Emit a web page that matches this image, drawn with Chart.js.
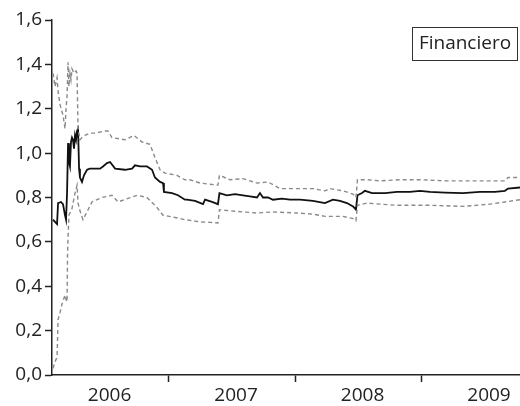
<!DOCTYPE html>
<html>
<head>
<meta charset="utf-8">
<script src="https://cdn.jsdelivr.net/npm/chart.js@4/dist/chart.umd.min.js"></script>
<style>
  html, body { margin: 0; padding: 0; background: #fff; }
  #wrap { width: 520px; height: 406px; }
</style>
</head>
<body>
<div id="wrap"><canvas id="grafico"></canvas></div>
<script>
// years as decimal values
var mainX = [2006.083, 2006.099, 2006.115, 2006.123, 2006.146, 2006.162, 2006.178, 2006.186, 2006.194, 2006.202,
  2006.209, 2006.217, 2006.225, 2006.233, 2006.241, 2006.249, 2006.257, 2006.265, 2006.273, 2006.281,
  2006.289, 2006.296, 2006.312, 2006.328, 2006.352, 2006.375, 2006.391, 2006.455, 2006.478, 2006.510,
  2006.534, 2006.574, 2006.652, 2006.708, 2006.731, 2006.771, 2006.826, 2006.866, 2006.889, 2006.929,
  2006.953, 2006.960, 2007.024, 2007.071, 2007.126, 2007.142, 2007.206, 2007.269,
  2007.285, 2007.340, 2007.387, 2007.399, 2007.458, 2007.522, 2007.585, 2007.640, 2007.696, 2007.719,
  2007.743, 2007.783, 2007.822, 2007.893, 2007.957, 2008.036, 2008.138, 2008.233, 2008.296, 2008.352,
  2008.407, 2008.455, 2008.478, 2008.490, 2008.526, 2008.549, 2008.605, 2008.708, 2008.802, 2008.905,
  2008.984, 2009.063, 2009.182, 2009.324, 2009.458, 2009.577, 2009.656, 2009.680, 2009.775];
var mainY = [0.70, 0.69, 0.68, 0.775, 0.78, 0.77, 0.72, 0.70, 0.82, 1.045,
  0.96, 0.94, 1.05, 1.07, 1.06, 1.02, 1.08, 1.06, 1.10, 1.11,
  0.93, 0.89, 0.87, 0.90, 0.925, 0.93, 0.93, 0.93, 0.94, 0.955,
  0.96, 0.93, 0.925, 0.93, 0.945, 0.94, 0.94, 0.925, 0.89, 0.87,
  0.865, 0.825, 0.82, 0.81, 0.79, 0.79, 0.785, 0.77,
  0.79, 0.78, 0.77, 0.82, 0.81, 0.815, 0.81, 0.805, 0.80, 0.82,
  0.80, 0.80, 0.79, 0.795, 0.79, 0.79, 0.785, 0.775, 0.79, 0.785,
  0.775, 0.76, 0.745, 0.81, 0.82, 0.83, 0.82, 0.82, 0.825, 0.825,
  0.83, 0.825, 0.822, 0.82, 0.825, 0.825, 0.83, 0.84, 0.845];

var upperX = [2006.083, 2006.099, 2006.115, 2006.123, 2006.138, 2006.162, 2006.178, 2006.186, 2006.194, 2006.202,
  2006.209, 2006.217, 2006.225, 2006.233, 2006.249, 2006.265, 2006.273, 2006.281, 2006.296, 2006.312,
  2006.336, 2006.375, 2006.415, 2006.494, 2006.518, 2006.549, 2006.652, 2006.723, 2006.787, 2006.850,
  2006.889, 2006.929, 2006.968, 2007.063, 2007.126, 2007.166, 2007.245, 2007.324, 2007.387, 2007.399, 2007.482,
  2007.585, 2007.640, 2007.696, 2007.783, 2007.877, 2008.012, 2008.138, 2008.233, 2008.273, 2008.375,
  2008.455, 2008.478, 2008.490, 2008.565, 2008.668, 2008.826, 2008.984, 2009.198, 2009.458, 2009.656,
  2009.680, 2009.775];
var upperY = [1.36, 1.30, 1.34, 1.28, 1.22, 1.17, 1.11, 1.20, 1.26, 1.41,
  1.30, 1.36, 1.33, 1.38, 1.36, 1.37, 1.36, 1.11, 1.06, 1.07,
  1.08, 1.09, 1.09, 1.10, 1.10, 1.07, 1.06, 1.08, 1.05, 1.04,
  0.98, 0.925, 0.91, 0.90, 0.88, 0.88, 0.865, 0.86, 0.856, 0.90, 0.88,
  0.885, 0.875, 0.865, 0.87, 0.84, 0.84, 0.84, 0.83, 0.84, 0.83,
  0.815, 0.80, 0.88, 0.88, 0.875, 0.88, 0.88, 0.875, 0.875, 0.875,
  0.89, 0.89];

var lowerX = [2006.083, 2006.099, 2006.115, 2006.123, 2006.138, 2006.154, 2006.178, 2006.186, 2006.194, 2006.198,
  2006.202, 2006.209, 2006.217, 2006.233, 2006.257, 2006.273, 2006.281, 2006.296, 2006.320, 2006.360,
  2006.391, 2006.470, 2006.549, 2006.597, 2006.747, 2006.826, 2006.905, 2006.953, 2007.048, 2007.126,
  2007.245, 2007.324, 2007.387, 2007.399, 2007.482, 2007.585, 2007.696, 2007.822, 2008.012, 2008.138,
  2008.233, 2008.375, 2008.455, 2008.478, 2008.490, 2008.565, 2008.668, 2008.802, 2009.063, 2009.324,
  2009.538, 2009.656, 2009.775];
var lowerY = [0.03, 0.06, 0.08, 0.25, 0.28, 0.32, 0.36, 0.34, 0.33, 0.55,
  0.62, 0.72, 0.73, 0.75, 0.82, 0.855, 0.775, 0.74, 0.70, 0.745,
  0.78, 0.80, 0.81, 0.78, 0.81, 0.80, 0.755, 0.72, 0.71, 0.70,
  0.69, 0.688, 0.685, 0.745, 0.74, 0.735, 0.73, 0.735, 0.73, 0.725,
  0.715, 0.715, 0.705, 0.695, 0.765, 0.775, 0.77, 0.765, 0.765, 0.76,
  0.77, 0.78, 0.79];

var yearLabels = ['2006', '2007', '2008', '2009'];
var labelPos = [2006.53, 2007.53, 2008.53, 2009.53];
var yearBounds = [2007, 2008, 2009];
var boxLabel = 'Financiero';

var fuente = { family: 'Open Sans', size: 19 };
var tinta = '#222';

function pares(xs, ys) {
  var out = [];
  for (var i = 0; i < xs.length; i++) out.push({ x: xs[i], y: ys[i] });
  return out;
}

var cajaPlugin = {
  id: 'caja',
  afterDraw: function(chart) {
    var c = chart.ctx;
    c.save();
    c.fillStyle = '#fff';
    c.fillRect(412.5, 27.5, 105, 33);
    c.strokeStyle = '#333';
    c.lineWidth = 1;
    c.strokeRect(412.5, 27.5, 105, 33);
    c.fillStyle = tinta;
    c.font = '19px "Open Sans"';
    c.textAlign = 'center';
    c.textBaseline = 'middle';
    c.fillText(boxLabel, 465, 44);
    c.restore();
  }
};

var ctx = document.getElementById('grafico');
new Chart(ctx, {
  type: 'line',
  data: {
    datasets: [
      { data: pares(upperX, upperY), borderColor: '#8a8a8a', borderWidth: 1.4, borderDash: [4, 3] },
      { data: pares(lowerX, lowerY), borderColor: '#8a8a8a', borderWidth: 1.4, borderDash: [4, 3] },
      { data: pares(mainX, mainY), borderColor: '#111', borderWidth: 1.8 }
    ]
  },
  options: {
    responsive: true,
    maintainAspectRatio: false,
    animation: false,
    events: [],
    layout: { padding: { top: 20, left: 0, right: 0, bottom: 0 } },
    elements: { point: { radius: 0 }, line: { tension: 0 } },
    plugins: { legend: { display: false }, tooltip: { enabled: false } },
    scales: {
      x: {
        type: 'linear',
        min: 2006.075,
        max: 2009.775,
        afterBuildTicks: function(s) {
          var t = [];
          labelPos.forEach(function(v) { t.push({ value: v }); });
          yearBounds.forEach(function(v) { t.push({ value: v }); });
          t.sort(function(a, b) { return a.value - b.value; });
          s.ticks = t;
        },
        afterFit: function(s) { s.height = 31; },
        ticks: {
          autoSkip: false,
          maxRotation: 0,
          padding: 2,
          color: tinta,
          font: fuente,
          callback: function(v) {
            var i = labelPos.indexOf(v);
            return i >= 0 ? yearLabels[i] : '';
          }
        },
        grid: {
          drawOnChartArea: false,
          tickLength: 7,
          tickWidth: 1.5,
          tickColor: function(c) {
            return (c.tick && yearBounds.indexOf(c.tick.value) >= 0) ? tinta : 'rgba(0,0,0,0)';
          }
        },
        border: { color: tinta, width: 1.5 }
      },
      y: {
        min: 0,
        max: 1.6,
        afterFit: function(s) { s.width = 52; },
        ticks: {
          stepSize: 0.2,
          padding: 3,
          color: tinta,
          font: fuente,
          callback: function(v) { return v.toFixed(1).replace('.', ','); }
        },
        grid: { drawOnChartArea: false, tickLength: 7, tickWidth: 1.5, tickColor: tinta },
        border: { color: tinta, width: 1.5 }
      }
    }
  },
  plugins: [cajaPlugin]
});
</script>
</body>
</html>
